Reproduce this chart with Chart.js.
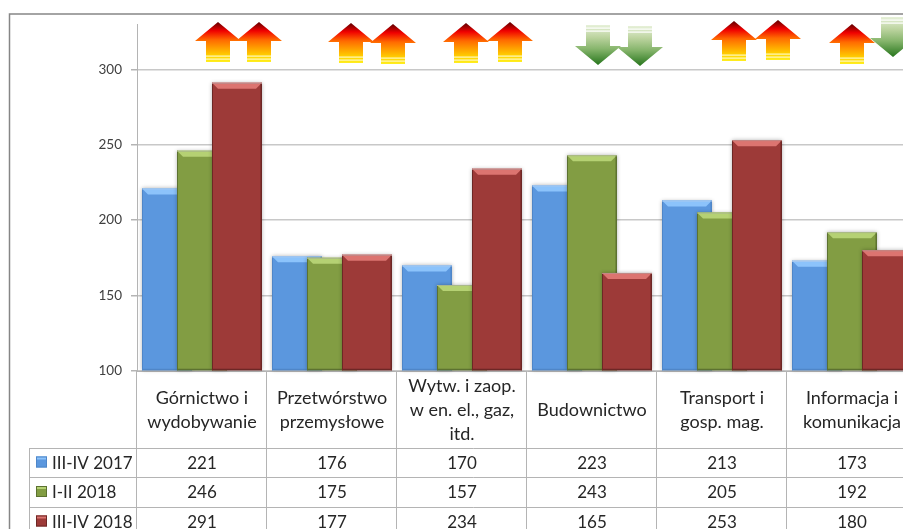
<!DOCTYPE html>
<html><head><meta charset="utf-8">
<style>html,body{margin:0;padding:0;background:#fff;overflow:hidden}#w{width:903px;height:529px;overflow:hidden;position:relative}canvas{display:block}</style>
<script src="https://cdn.jsdelivr.net/npm/chart.js@4"></script>
</head><body><div id="w"><canvas id="c" width="917" height="540" style="width:917px;height:540px"></canvas></div>
<script>
const categories = [['Górnictwo i','wydobywanie'],['Przetwórstwo','przemysłowe'],['Wytw. i zaop.','w en. el., gaz,','itd.'],['Budownictwo'],['Transport i','gosp. mag.'],['Informacja i','komunikacja']];
const seriesNames = ['III-IV 2017','I-II 2018','III-IV 2018'];
const values2017b = [221,176,170,223,213,173];
const values2018a = [246,175,157,243,205,192];
const values2018b = [291,177,234,165,253,180];
const yTicks = [100,150,200,250,300];
const arrowDirections = [['up','up'],['up','up'],['up','up'],['down','down'],['up','up'],['up','down']];
// arrow placement relative to its category centre: [dx, top offset] (decoration only)
const arrowNudge = [[[16,22],[57,22]],[[19,23],[61,24]],[[4,23],[48,22]],[[6,25],[48,26]],[[12,21],[56,20]],[[0,24],[41,17]]];

const FONT='Lato, Carlito, sans-serif';
const palette=[
 {fill:'#5b97de',top:'#8cc3fb',edge:'#4f86c8',hi:'#a9c9ef'},
 {fill:'#829d43',top:'#b5d173',edge:'#5c7230',hi:'#aab98a'},
 {fill:'#9d3a38',top:'#dc7470',edge:'#6d2725',hi:'#c08a88'}];

function bevel(ctx,el,p){
 const l=el.x-el.width/2,r=el.x+el.width/2,t=el.y,b=el.base,d=6;
 ctx.save();
 ctx.fillStyle=p.top;
 ctx.beginPath();ctx.moveTo(l,t);ctx.lineTo(r,t);ctx.lineTo(r-d,t+d);ctx.lineTo(l+d,t+d);ctx.closePath();ctx.fill();
 ctx.fillStyle=p.edge;
 ctx.fillRect(r-1.5,t,1.5,b-t);
 ctx.fillRect(l,t,1,b-t);
 ctx.fillRect(l,b-1.5,r-l,1.5);
 ctx.strokeStyle=p.hi;ctx.lineWidth=1;
 ctx.beginPath();ctx.moveTo(l,t+.5);ctx.lineTo(r,t+.5);ctx.stroke();
 ctx.restore();
}
function arrow(ctx,cx,top,dir){
 const hw=23,sw=12,headH=19,H=40;
 ctx.save();
 if(dir==='up'){
  const g=ctx.createLinearGradient(0,top,0,top+H);
  g.addColorStop(0,'#5e0000');g.addColorStop(.22,'#f00000');g.addColorStop(.45,'#ff6a00');g.addColorStop(.85,'#ffd400');g.addColorStop(1,'#ffee20');
  ctx.fillStyle=g;
  ctx.beginPath();ctx.moveTo(cx,top);ctx.lineTo(cx+hw,top+headH);ctx.lineTo(cx+sw,top+headH);ctx.lineTo(cx+sw,top+H);ctx.lineTo(cx-sw,top+H);ctx.lineTo(cx-sw,top+headH);ctx.lineTo(cx-hw,top+headH);ctx.closePath();ctx.fill();
  ctx.fillStyle='#fff8c0';
  ctx.fillRect(cx-sw,top+33.5,sw*2,1.2);ctx.fillRect(cx-sw,top+36.5,sw*2,1.2);
 }else{
  const g=ctx.createLinearGradient(0,top,0,top+H);
  g.addColorStop(0,'#e6f0d8');g.addColorStop(.3,'#bdd4a0');g.addColorStop(.6,'#86b56c');g.addColorStop(1,'#26751c');
  ctx.fillStyle=g;
  ctx.beginPath();ctx.moveTo(cx,top+H);ctx.lineTo(cx+hw,top+H-headH);ctx.lineTo(cx+sw,top+H-headH);ctx.lineTo(cx+sw,top);ctx.lineTo(cx-sw,top);ctx.lineTo(cx-sw,top+H-headH);ctx.lineTo(cx-hw,top+H-headH);ctx.closePath();ctx.fill();
  ctx.fillStyle='#ffffff';
  ctx.fillRect(cx-sw,top+2.5,sw*2,1.2);ctx.fillRect(cx-sw,top+5.5,sw*2,1.2);
 }
 ctx.restore();
}
const rowRule=[77,106,136,165];
const tablePlugin={
 id:'dataTable',
 beforeDatasetsDraw(chart){
  const ctx=chart.ctx;
  // draw in data order so that each later series sits on top
  [0,1,2].forEach(i=>{
   const meta=chart.getDatasetMeta(i);
   ctx.save();
   ctx.shadowColor='rgba(0,0,0,.30)';ctx.shadowBlur=4;ctx.shadowOffsetX=0;ctx.shadowOffsetY=0;
   meta.controller.draw();
   ctx.restore();
   meta.data.forEach(el=>bevel(ctx,el,palette[i]));
  });
  return false;
 },
 afterDraw(chart){
  const ctx=chart.ctx,x=chart.scales.x,y=chart.scales.y,bottom=y.bottom;
  const seriesVals=[values2017b,values2018a,values2018b];
  const left=chart.chartArea.left,w=x.getPixelForTick(1)-x.getPixelForTick(0);
  ctx.save();
  ctx.strokeStyle='#b4b4b4';ctx.lineWidth=1;
  const a=v=>Math.round(v)+.5;
  for(let i=0;i<=categories.length;i++){
   const px=a(left+i*w)-1;
   ctx.beginPath();ctx.moveTo(px,bottom);ctx.lineTo(px,bottom+rowRule[3]);ctx.stroke();
  }
  rowRule.forEach(o=>{ctx.beginPath();ctx.moveTo(29.5,a(bottom+o));ctx.lineTo(chart.width,a(bottom+o));ctx.stroke();});
  ctx.beginPath();ctx.moveTo(29.5,bottom+rowRule[0]);ctx.lineTo(29.5,bottom+rowRule[3]);ctx.stroke();
  ctx.font='17px '+FONT;ctx.fillStyle='#262626';ctx.textBaseline='middle';
  seriesNames.forEach((n,r)=>{
   const cy=bottom+(rowRule[r]+rowRule[r+1])/2;
   const p=palette[r];
   ctx.fillStyle=p.fill;ctx.fillRect(36,cy-6,11,11);
   ctx.fillStyle=p.top;ctx.fillRect(36,cy-6,11,3);
   ctx.strokeStyle=p.edge;ctx.strokeRect(36.5,cy-5.5,10,10);
   ctx.fillStyle='#262626';ctx.textAlign='left';ctx.fillText(n,52,cy+1);
   ctx.textAlign='center';
   seriesVals[r].forEach((v,i)=>ctx.fillText(String(v),x.getPixelForTick(i),cy+1));
  });
  // trend arrows
  arrowDirections.forEach((pair,i)=>pair.forEach((d,k)=>{
   arrow(ctx,x.getPixelForTick(i)+arrowNudge[i][k][0],arrowNudge[i][k][1],d);
  }));
  // outer frame
  ctx.strokeStyle='#868686';ctx.lineWidth=1.5;
  ctx.strokeRect(9.5,14,chart.width+40,chart.height+40);
  ctx.restore();
 }
};
new Chart(document.getElementById('c'),{
 type:'bar',
 data:{labels:categories,datasets:[
  {label:seriesNames[0],data:values2017b,base:100,backgroundColor:palette[0].fill},
  {label:seriesNames[1],data:values2018a,base:100,backgroundColor:palette[1].fill},
  {label:seriesNames[2],data:values2018b,base:100,backgroundColor:palette[2].fill}]},
 plugins:[tablePlugin],
 options:{
  responsive:false,animation:false,
  layout:{padding:{top:24,right:0,left:0,bottom:0}},
  categoryPercentage:.8077,barPercentage:1.4286,
  plugins:{legend:{display:false},title:{display:false},tooltip:{enabled:false}},
  scales:{
   x:{grid:{display:false},border:{display:true,color:'#b4b4b4'},
    ticks:{autoSkip:false,maxRotation:0,padding:1,color:'#262626',font:{family:FONT,size:18,lineHeight:'12px'},
     callback(v,i){const c=categories[i];
      if(c.length===3)return [c[0],'',c[1],'',c[2]];
      if(c.length===2)return ['',c[0],'',c[1]];
      return ['','',c[0]];}},
    afterFit(s){s.height=169;}},
   y:{min:100,max:330,
    grid:{color:'#c8c8c8',lineWidth:1.5,tickLength:6,tickColor:'#b4b4b4'},
    border:{display:true,color:'#b4b4b4'},
    afterBuildTicks(s){s.ticks=yTicks.map(v=>({value:v}));},
    ticks:{padding:9,color:'#404040',font:{family:FONT,size:13.5}},
    afterFit(s){s.width=137;}}
  }
 }
});
</script></body></html>
